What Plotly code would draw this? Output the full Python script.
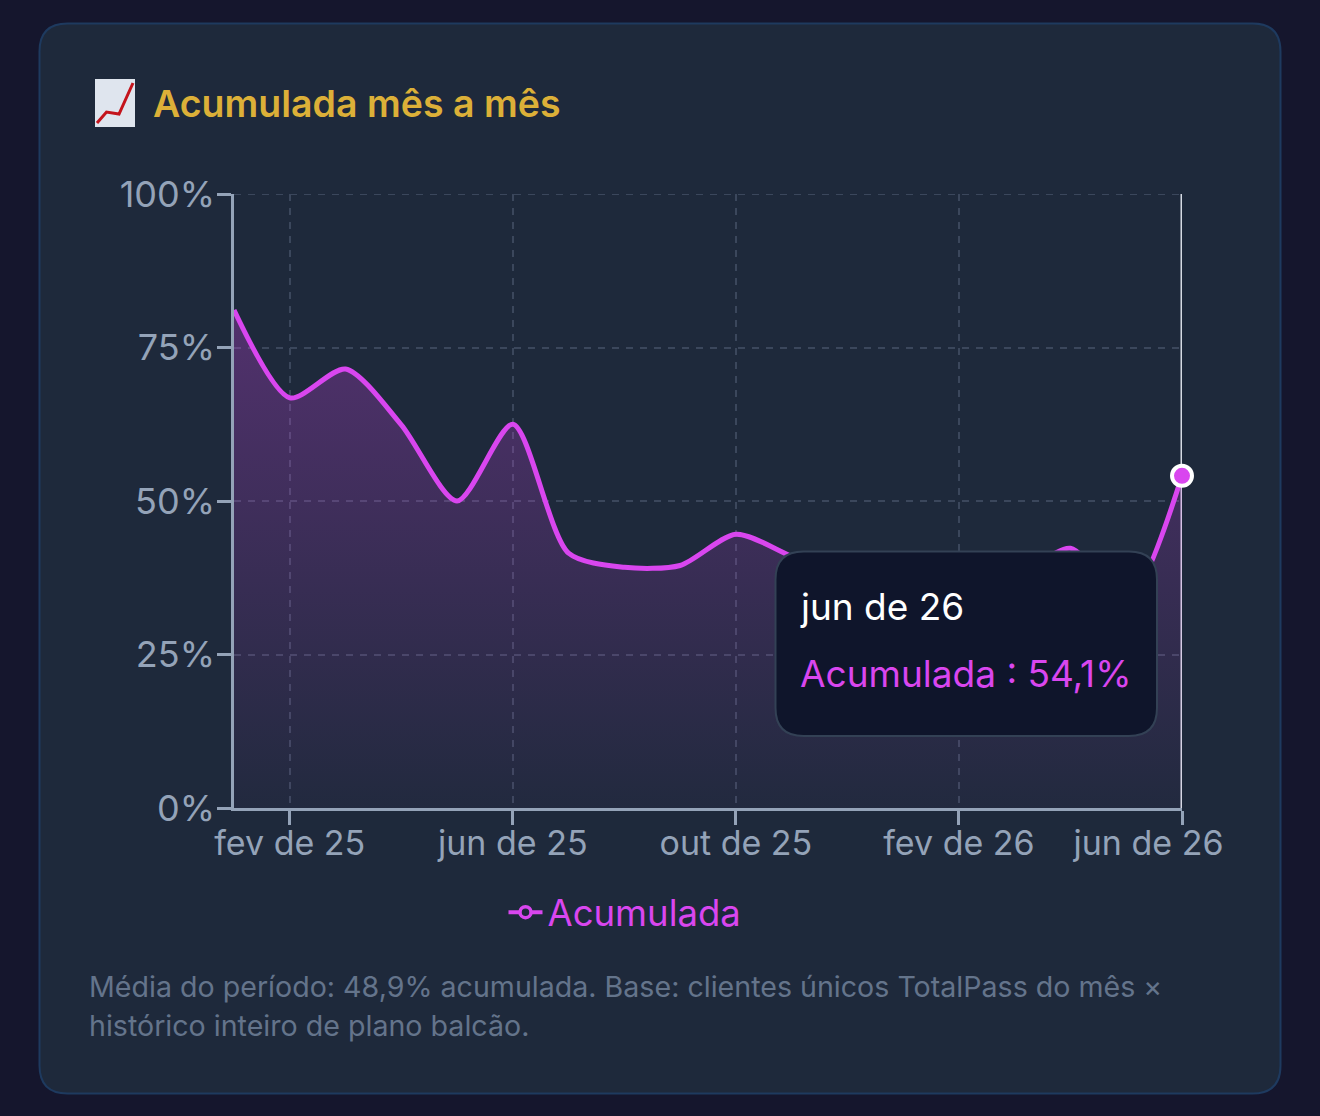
import plotly.graph_objects as go

# Monthly cumulative share, Jan 2025 to Jun 2026
months = ["jan de 25", "fev de 25", "mar de 25", "abr de 25", "mai de 25", "jun de 25",
          "jul de 25", "ago de 25", "set de 25", "out de 25", "nov de 25", "dez de 25",
          "jan de 26", "fev de 26", "mar de 26", "abr de 26", "mai de 26", "jun de 26"]
acumulada = [81.1, 66.8, 71.5, 62.4, 50.0, 62.5, 41.5, 39.2, 39.5, 44.6,
             41.0, 37.5, 37.5, 37.5, 37.5, 42.3, 33.5, 54.1]
tick_months = ["fev de 25", "jun de 25", "out de 25", "fev de 26", "jun de 26"]
tick_pcts = [0, 25, 50, 75, 100]

W, H = 1320, 1116
L, R, T, B = 234, 1182, 194, 808
FONT = "Inter"
MAGENTA = "#d946ef"
CARD = "#1e293b"
PAGE = "#15162d"
MUTED = "#94a3b8"
GRID = "#3b475c"


def px(x):
    return (x - L) / (R - L)


def py(y):
    return (B - y) / (B - T)


def rounded(x0, y0, x1, y1, r):
    """Rounded-rectangle path in paper coordinates, from pixel corners."""
    p = lambda x, y: f"{px(x):.5f},{py(y):.5f}"
    return (f"M{p(x0 + r, y0)} L{p(x1 - r, y0)} Q{p(x1, y0)} {p(x1, y0 + r)} "
            f"L{p(x1, y1 - r)} Q{p(x1, y1)} {p(x1 - r, y1)} "
            f"L{p(x0 + r, y1)} Q{p(x0, y1)} {p(x0, y1 - r)} "
            f"L{p(x0, y0 + r)} Q{p(x0, y0)} {p(x0 + r, y0)} Z")


def label(x, y, text, size, color, anchor="left", weight=400):
    return dict(xref="paper", yref="paper", x=px(x), y=py(y), text=text, showarrow=False,
                xanchor=anchor, yanchor="middle", align="left",
                font=dict(family=FONT, size=size, color=color, weight=weight))


fig = go.Figure()

# Hover cursor on the latest month
fig.add_trace(go.Scatter(x=[months[-1], months[-1]], y=[tick_pcts[0], tick_pcts[-1]], mode="lines",
                         line=dict(color="#d5dae3", width=3), showlegend=False, hoverinfo="skip",
                         cliponaxis=False))

# Smoothed area
fig.add_trace(go.Scatter(
    x=months, y=acumulada, mode="lines", showlegend=False, cliponaxis=False,
    line=dict(color=MAGENTA, width=5, shape="spline", smoothing=0.75),
    fill="tozeroy",
    fillgradient=dict(type="vertical", start=0, stop=max(acumulada),
                      colorscale=[[0, "rgba(217,70,239,0.02)"], [1, "rgba(217,70,239,0.28)"]]),
))

# Active point
fig.add_trace(go.Scatter(x=months[-1:], y=acumulada[-1:], mode="markers", showlegend=False,
                         cliponaxis=False,
                         marker=dict(size=20, color=MAGENTA, line=dict(color="#ffffff", width=4))))

# Legend entry only
fig.add_trace(go.Scatter(x=[None], y=[None], mode="lines+markers", name="Acumulada",
                         line=dict(color=MAGENTA, width=4),
                         marker=dict(size=11, color=CARD, line=dict(color=MAGENTA, width=3.5))))

shapes = [
    dict(type="rect", xref="paper", yref="paper", x0=px(0), x1=px(W), y0=py(H), y1=py(0),
         fillcolor=PAGE, line_width=0, layer="below"),
    dict(type="path", xref="paper", yref="paper", path=rounded(39.5, 23.5, 1280.5, 1093.5, 28),
         fillcolor=CARD, line=dict(color="#1e3a5f", width=2), layer="below"),
    # Top gridline, which the axis does not draw at the range edge
    dict(type="line", xref="paper", yref="y", x0=0, x1=1, y0=tick_pcts[-1], y1=tick_pcts[-1],
         line=dict(color=GRID, width=2, dash="7px,7px"), layer="below"),
    # Chart-with-upwards-trend icon beside the title
    dict(type="rect", xref="paper", yref="paper", x0=px(95), x1=px(135), y0=py(127), y1=py(79),
         fillcolor="#dfe5ee", line_width=0, layer="above"),
    dict(type="path", xref="paper", yref="paper",
         path=(f"M{px(97)},{py(123)} L{px(106.5)},{py(112)} L{px(119)},{py(114)} L{px(133)},{py(83)}"),
         line=dict(color="#c4141c", width=3), layer="above"),
    # Tooltip box
    dict(type="path", xref="paper", yref="paper", path=rounded(775.5, 551.5, 1157, 736, 28),
         fillcolor="#0f152b", line=dict(color="#334155", width=2), layer="above"),
]

value_text = f"{acumulada[-1]:.1f}%".replace(".", ",")
annotations = [
    label(151, 103.5, "Acumulada mês a mês", 37.5, "#dcb038", weight=600),
    label(798, 606, months[-1], 37, "#ffffff"),
    label(798, 673, f"Acumulada : {value_text}", 37, MAGENTA),
    label(87, 986.5, "Média do período: 48,9% acumulada. Base: clientes únicos TotalPass do mês ×",
          28.6, "#64748b"),
    label(87, 1025.5, "histórico inteiro de plano balcão.", 28.6, "#64748b"),
]

# The last tick label sits left of its tick so it stays inside the card
tick_text = tick_months[:-1] + [tick_months[-1] + "\u00a0" * 7]

fig.update_layout(
    width=W, height=H, autosize=False,
    margin=dict(l=L, r=W - R, t=T, b=H - B, pad=0),
    paper_bgcolor=PAGE, plot_bgcolor="rgba(0,0,0,0)",
    font=dict(family=FONT, color=MUTED),
    shapes=shapes, annotations=annotations, hovermode=False,
    legend=dict(orientation="h", x=px(625), y=py(912.5), xanchor="center", yanchor="middle",
                font=dict(family=FONT, size=36.5, color=MAGENTA), itemwidth=34,
                bgcolor="rgba(0,0,0,0)"),
    xaxis=dict(type="category", categoryorder="array", categoryarray=months,
               range=[0, len(months) - 1], tickmode="array", tickvals=tick_months,
               ticktext=tick_text, ticks="outside", ticklen=14, tickwidth=2.5, tickcolor=MUTED,
               showline=True, linecolor=MUTED, linewidth=2.5, showgrid=True, gridcolor=GRID,
               gridwidth=2, griddash="7px,7px", zeroline=False, ticklabelstandoff=-11,
               tickfont=dict(family=FONT, size=34, color=MUTED)),
    yaxis=dict(range=[0, 100], tickmode="array", tickvals=tick_pcts,
               ticktext=[f"{v}%" for v in tick_pcts], ticks="outside", ticklen=14, tickwidth=2.5,
               tickcolor=MUTED, showline=True, linecolor=MUTED, linewidth=2.5, showgrid=True,
               gridcolor=GRID, gridwidth=2, griddash="7px,7px", zeroline=False,
               ticklabelstandoff=-5,
               tickfont=dict(family=FONT, size=36, color=MUTED)),
)

fig.write_html("out.html")
